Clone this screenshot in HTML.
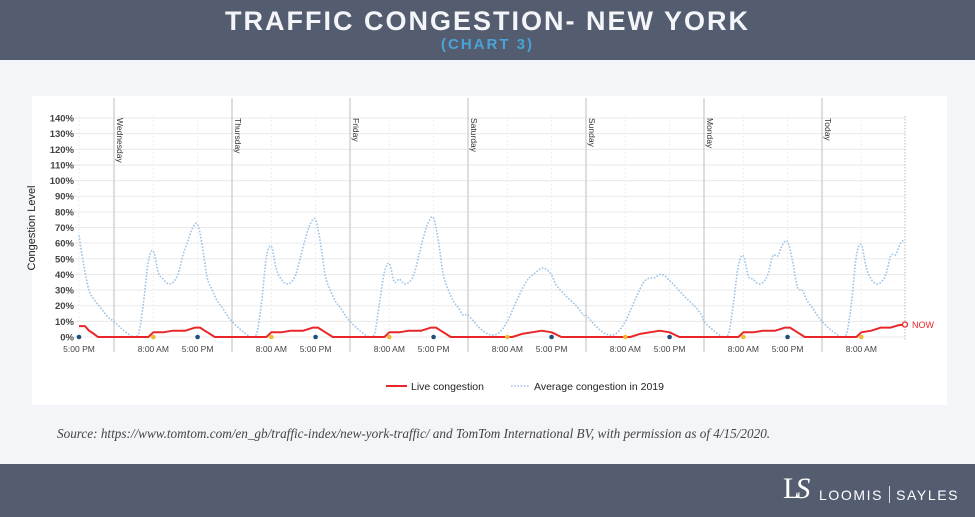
<!DOCTYPE html>
<html><head><meta charset="utf-8">
<style>
body{margin:0;width:975px;height:517px;background:#f4f5f8;font-family:"Liberation Sans",sans-serif;overflow:hidden;position:relative}
.hdr{position:absolute;left:0;top:0;width:975px;height:60px;background:#545d70;text-align:center}
.t1{color:#f4f5f8;font-weight:bold;font-size:27px;letter-spacing:2px;position:absolute;top:6px;width:100%}
.t2{color:#4aa3d8;font-weight:bold;font-size:15px;letter-spacing:2px;position:absolute;top:36px;width:100%}
.box{position:absolute;left:32px;top:96px;width:915px;height:309px;background:#fff}
.src{position:absolute;left:57px;top:426px;font-family:"Liberation Serif",serif;font-style:italic;font-size:13.2px;color:#444}
.ftr{position:absolute;left:0;top:464px;width:975px;height:53px;background:#545d70}
</style></head><body>
<div class="hdr"><div class="t1">TRAFFIC CONGESTION- NEW YORK</div><div class="t2">(CHART 3)</div></div>
<div class="box"></div>
<svg id="c" width="975" height="517" style="position:absolute;left:0;top:0" font-family="Liberation Sans, sans-serif"></svg>
<div class="src">Source: https://www.tomtom.com/en_gb/traffic-index/new-york-traffic/ and TomTom International BV, with permission as of 4/15/2020.</div>
<div class="ftr">
<div style="position:absolute;left:783px;top:10px;color:#fff;font-family:'Liberation Serif',serif;font-size:30px;line-height:30px">L<span style="margin-left:-6px;font-style:italic">S</span></div>
<div style="position:absolute;left:819px;top:22px;color:#fff;font-size:14px;letter-spacing:1.6px">LOOMIS<span style="display:inline-block;width:1px;height:17px;background:#ddd;margin:0 6px;vertical-align:-3px"></span>SAYLES</div>
</div>
<script>
var s='',Y=function(v){return 337-v*1.564},X0=114,D=118,H=D/24;
for(var i=0;i<=14;i++){var y=Y(i*10);s+='<line x1="70" x2="905" y1="'+y+'" y2="'+y+'" stroke="#eaeaea" stroke-width="1"/>';
s+='<text x="74" y="'+(y+3.5)+'" font-size="9.5" font-weight="bold" fill="#444" text-anchor="end">'+(i*10)+'%</text>';}
s+='<text transform="translate(35,228) rotate(-90)" font-size="11" fill="#222" text-anchor="middle">Congestion Level</text>';
s+='<line x1="79" x2="79" y1="116" y2="340" stroke="#eee" stroke-dasharray="2,2"/>';
var days=['Wednesday','Thursday','Friday','Saturday','Sunday','Monday','Today'];
var lbl='<text x="79" y="352" font-size="8.5" fill="#444" text-anchor="middle">5:00 PM</text>';
for(var d=0;d<7;d++){var x=X0+d*D;
s+='<line x1="'+x+'" x2="'+x+'" y1="98" y2="352" stroke="#d4d4d4" stroke-width="1.5"/>';
s+='<text transform="translate('+(x+3)+',118) rotate(90)" font-size="8.5" fill="#333">'+days[d]+'</text>';
[8,17].forEach(function(h){if(d==6&&h==17)return;var xx=x+h*H;
s+='<line x1="'+xx+'" x2="'+xx+'" y1="116" y2="340" stroke="#eee" stroke-dasharray="2,2"/>';
lbl+='<text x="'+xx+'" y="352" font-size="8.5" fill="#444" text-anchor="middle">'+(h==8?'8:00 AM':'5:00 PM')+'</text>';});}
s+='<line x1="905" x2="905" y1="116" y2="340" stroke="#bbb" stroke-dasharray="1.5,1.5"/>';
s+=lbl;
function smooth(p){var o='M'+p[0][0].toFixed(1)+' '+Y(p[0][1]).toFixed(1);
for(var i=0;i<p.length-1;i++){var a=p[i-1]||p[i],b=p[i],c=p[i+1],e=p[i+2]||c;
var x1=b[0]+(c[0]-a[0])/6,y1=b[1]+(c[1]-a[1])/6,x2=c[0]-(e[0]-b[0])/6,y2=c[1]-(e[1]-b[1])/6;
y1=Math.max(0,y1);y2=Math.max(0,y2);
o+=' C'+x1.toFixed(1)+' '+Y(y1).toFixed(1)+' '+x2.toFixed(1)+' '+Y(y2).toFixed(1)+' '+c[0].toFixed(1)+' '+Y(c[1]).toFixed(1);}return o;}
function wk(m,e){return [[0,10],[2,4],[4,0],[5,2],[6,22],[7,m*.88],[8,m],[9,m*.75],[10,37],[11,34],[12,35],[13,40],[14,52],[15,e*.85],[16,e*.97],[17,e],[18,e*.8],[19,e*.52],[20,30],[21,23],[22,19],[23,14]];}
function wkend(p){return [[0,14],[2,7],[4,2],[6,2],[8,10],[10,24],[12,36],[14,p*.95],[15,p],[16,p*.98],[17,p*.9],[18,33],[20,26],[22,20],[23.5,14]];}
var prof=[wk(55,72),wk(58,75),wk(47,76),wkend(44),wkend(40),wk(52,61),wk(59,62)];
var pts=[[79,65],[84,45],[89,30],[94,24],[99,20],[104,16],[109,12]];
prof.forEach(function(p,dd){p.forEach(function(q){var x=X0+dd*D+q[0]*H;if(x<=903)pts.push([x,q[1]]);});});
pts.push([905,62]);
s+='<path d="'+smooth(pts)+'" fill="none" stroke="#9dc3e6" stroke-width="1.6" stroke-dasharray="1.6,1.6" stroke-linejoin="round"/>';
var r=[[79,7],[85,7],[89,4],[94,2],[98,0]];
[0,1,2,5].forEach(function(dd){var x=X0+dd*D;r.push([x+7*H,0],[x+8*H,3],[x+10*H,3],[x+12*H,4],[x+14.5*H,4],[x+16.5*H,6],[x+17.5*H,6],[x+19*H,3],[x+20.5*H,0]);});
[3,4].forEach(function(dd){var x=X0+dd*D;r.push([x+9*H,0],[x+11*H,2],[x+13*H,3],[x+15*H,4],[x+17*H,3],[x+19*H,0]);});
r.sort(function(a,b){return a[0]-b[0]});
var x6=X0+6*D;r.push([x6+7*H,0],[x6+8*H,3],[x6+10*H,4],[x6+12*H,6],[x6+14*H,6],[x6+15.5*H,7.5],[905,8]);
var pr=r.map(function(p,i){return (i?'L':'M')+p[0].toFixed(1)+' '+Y(p[1]).toFixed(1)}).join(' ');
s+='<path d="'+pr+'" fill="none" stroke="#e8262a" stroke-width="2" stroke-linejoin="round"/>';
s+='<circle cx="905" cy="'+Y(8)+'" r="2.5" fill="#fff" stroke="#e8262a" stroke-width="1.3"/>';
s+='<text x="912" y="'+(Y(8)+3.5)+'" font-size="9" fill="#e8262a">NOW</text>';
s+='<circle cx="79" cy="337" r="2.3" fill="#1d4f7c"/>';
for(var d2=0;d2<7;d2++){var xb=X0+d2*D;s+='<circle cx="'+(xb+8*H)+'" cy="337" r="2.3" fill="#f5b730"/>';if(d2<6)s+='<circle cx="'+(xb+17*H)+'" cy="337" r="2.3" fill="#1d4f7c"/>';}
s+='<line x1="386" x2="407" y1="386" y2="386" stroke="#e8262a" stroke-width="2"/><text x="411" y="390" font-size="10.5" fill="#222">Live congestion</text>';
s+='<line x1="511" x2="530" y1="386" y2="386" stroke="#9dc3e6" stroke-width="1.6" stroke-dasharray="1.6,1.6"/><text x="534" y="390" font-size="10.5" fill="#222">Average congestion in 2019</text>';
document.getElementById('c').innerHTML=s;
</script>
</body></html>
